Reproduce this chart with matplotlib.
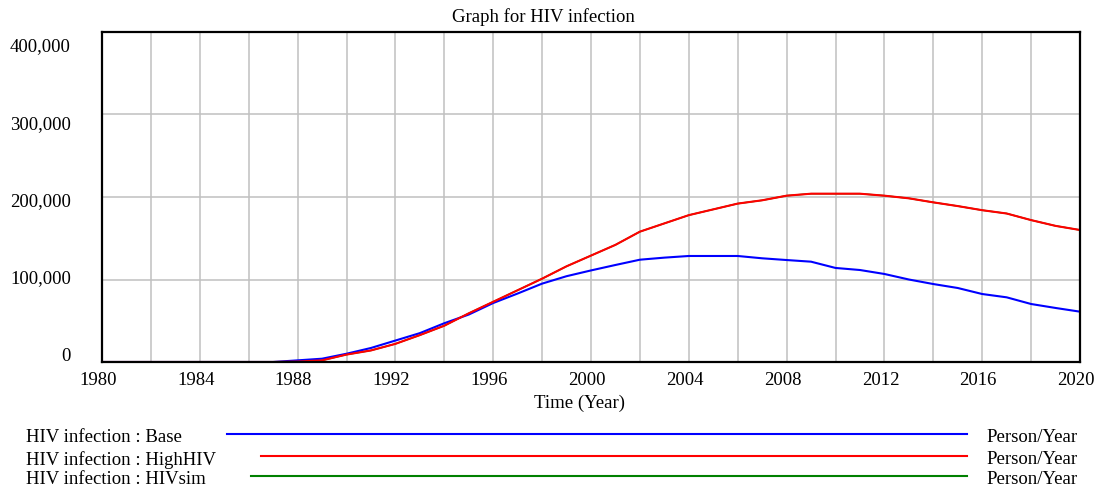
import numpy as np
import matplotlib
matplotlib.use('Agg')
import matplotlib.pyplot as plt
from matplotlib.transforms import offset_copy

# years of the simulation
years = list(range(1980, 2021))

# HIV infection : Base (Person/Year)
base = [0, 0, 0, 0, 0, 0, 0, 0,
        2000, 4000, 10000, 17000, 26000, 35000, 47000, 57500, 71500, 83000, 95000, 104000,
        111000, 117600, 124000, 126500, 128500, 128500, 128500, 125700, 123600, 121600,
        114000, 111500, 106700, 100000, 94500, 89700, 82400, 78400, 70300, 65500, 61000]

# HIV infection : HighHIV (Person/Year)
high_hiv = [0, 0, 0, 0, 0, 0, 0, 0,
            500, 2000, 9000, 14000, 22000, 32600, 44000, 59000, 73000, 87000, 101000, 116000,
            129000, 142000, 158000, 168000, 178000, 185000, 192000, 196000, 201600, 204000,
            204000, 204000, 201600, 198400, 193500, 189000, 184000, 180000, 172000, 165000, 160000]

# HIV infection : HIVsim (Person/Year) - sits under the HighHIV run
hiv_sim = list(high_hiv)

series_names = ['HIV infection : Base', 'HIV infection : HighHIV', 'HIV infection : HIVsim']
series_colors = ['#0000ff', '#ff0000', '#008000']
units = 'Person/Year'

ytick_vals = [0, 100000, 200000, 300000, 400000]
xtick_vals = list(range(1980, 2021, 4))

FONT = 'Liberation Serif'
FS = 13.5

fig = plt.figure(figsize=(10.97, 4.91), dpi=100)
ax = fig.add_axes([102/1097, 1 - 362/491, (1080-102)/1097, (362-32)/491])

# green first so the red run covers it (same as in the reference)
ax.plot(years, hiv_sim, color=series_colors[2], lw=1.1, zorder=3)
ax.plot(years, base, color=series_colors[0], lw=1.5, zorder=4)
ax.plot(years, high_hiv, color=series_colors[1], lw=1.5, zorder=5)

ax.set_xlim(1980, 2020)
ax.set_ylim(0, 400000)
ax.set_xticks(range(1980, 2021, 2))
ax.set_yticks(ytick_vals)
ax.grid(True, color='#c0c0c0', lw=1.1, zorder=0)
ax.set_axisbelow(True)
ax.tick_params(length=0, labelleft=False, labelbottom=False)
for sp in ax.spines.values():
    sp.set_linewidth(1.6)
    sp.set_color('black')
    sp.set_zorder(6)

# x labels every 4 years (vensim puts them a few px left of the gridline)
xlab_tr = offset_copy(ax.get_xaxis_transform(), fig=fig, x=-4, y=0, units='dots')
for yr in xtick_vals:
    ax.text(yr, -0.055, str(yr), transform=xlab_tr,
            ha='center', va='center', family=FONT, fontsize=FS)

# y labels (vensim spreads them a bit inside the gridlines)
ylab_pos = np.linspace(0.018, 0.955, len(ytick_vals))
for v, p in zip(ytick_vals, ylab_pos):
    ax.text(-31/978, p, f'{v:,}', transform=ax.transAxes,
            ha='right', va='center', family=FONT, fontsize=FS)

fig.text(543/1097, 1 - 17/491, 'Graph for HIV infection', ha='center', va='center',
         family=FONT, fontsize=FS)
fig.text(580/1097, 1 - 403/491, 'Time (Year)', ha='center', va='center',
         family=FONT, fontsize=FS)

# legend block under the chart
text_y = [437, 460, 480]
line_y = [434, 456, 476]
renderer = fig.canvas.get_renderer()
for name, col, ty, ly in zip(series_names, series_colors, text_y, line_y):
    t = fig.text(26/1097, 1 - ty/491, name, ha='left', va='center',
                 family=FONT, fontsize=FS)
    x_end = t.get_window_extent(renderer).x1
    fig.add_artist(plt.Line2D([(x_end + 45)/1097, 967/1097], [1 - ly/491, 1 - ly/491],
                              color=col, lw=1.5, transform=fig.transFigure))
    fig.text(1078/1097, 1 - ty/491, units, ha='right', va='center',
             family=FONT, fontsize=FS)

fig.savefig('out.png', dpi=100)
